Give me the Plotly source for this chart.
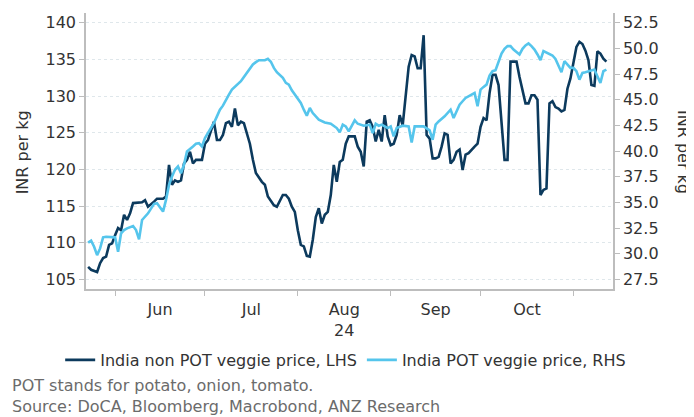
import pandas as pd
import plotly.graph_objects as go

BASE_DATE = "2024-06-01"  # day offsets below are counted from this date

# India non POT veggie price (LHS, INR per kg)
dark_days = [-9, -8, -6, -5, -4, -3, -2, -1, 0, 1, 2, 3, 4, 5, 6, 7, 9, 10, 11, 13, 14, 16, 17, 18, 19, 20,
             21, 22, 23, 24, 25, 26, 27, 28, 29, 30, 31, 33, 34, 35, 36, 37, 38, 39, 40, 41, 42, 43, 45, 46,
             47, 49, 50, 51, 52, 53, 54, 55, 56, 57, 58, 59, 60, 61, 62, 63, 64, 65, 66, 67, 68, 69, 70, 71,
             72, 73, 74, 75, 76, 77, 78, 80, 81, 82, 83, 84, 85, 86, 87, 88, 89, 90, 91, 92, 93, 94, 95, 96,
             97, 98, 99, 100, 101, 102, 103, 104, 105, 106, 107, 108, 109, 110, 111, 112, 113, 114, 115, 116,
             117, 118, 120, 121, 122, 123, 124, 125, 126, 127, 128, 130, 131, 132, 133, 134, 135, 136, 137,
             138, 139, 140, 141, 142, 143, 144, 145, 146, 147, 148, 149, 150, 151, 152, 154, 155, 156, 157,
             158, 159, 160, 161, 162, 163, 164]
dark_vals = [106.7, 106.3, 106.0, 107.2, 107.9, 108.1, 109.7, 109.9, 111.0, 112.0, 111.7, 113.8, 113.1, 114.0,
             115.4, 115.4, 115.5, 115.8, 114.9, 115.6, 116.0, 116.0, 116.3, 120.6, 117.9, 118.5, 118.3, 118.5,
             120.8, 121.3, 122.4, 120.8, 121.3, 121.3, 121.3, 123.5, 124.0, 126.5, 124.0, 124.0, 124.7, 126.3,
             126.5, 125.8, 128.3, 126.0, 126.5, 126.3, 123.5, 121.3, 119.5, 118.3, 117.9, 116.3, 115.6, 115.1,
             114.9, 115.8, 116.5, 116.5, 116.0, 114.9, 114.2, 111.7, 109.7, 109.5, 108.2, 108.1, 110.4, 113.5,
             114.7, 112.6, 113.8, 114.2, 116.5, 120.6, 118.3, 121.0, 121.3, 123.5, 124.5, 124.5, 123.1, 122.4,
             120.4, 126.5, 126.7, 125.8, 123.8, 125.4, 123.8, 127.4, 124.5, 123.3, 123.5, 124.7, 127.4, 126.0,
             130.4, 134.0, 135.6, 135.4, 133.8, 133.8, 138.3, 124.7, 124.2, 121.5, 121.5, 121.7, 123.1, 124.9,
             124.7, 120.8, 121.3, 122.4, 122.7, 119.9, 122.0, 122.2, 123.1, 123.5, 125.8, 127.0, 126.7, 130.4,
             132.9, 132.9, 131.5, 121.3, 121.3, 134.7, 134.7, 134.7, 132.6, 130.6, 129.0, 129.0, 130.1, 130.1,
             129.5, 116.5, 117.2, 117.4, 129.0, 129.3, 128.5, 128.3, 127.9, 128.1, 131.0, 132.4, 136.7, 137.4,
             137.1, 136.2, 134.9, 131.5, 131.4, 136.1, 135.8, 135.1, 134.7]

# India POT veggie price (RHS, INR per kg)
light_days = [-9, -8, -7, -6, -5, -4, -3, -2, 0, 1, 2, 3, 4, 6, 7, 8, 9, 11, 12, 13, 14, 16, 17, 18, 19, 20,
              21, 22, 23, 24, 26, 27, 28, 29, 30, 31, 33, 34, 35, 36, 37, 38, 39, 41, 42, 43, 44, 45, 46, 47,
              48, 50, 51, 52, 53, 54, 56, 57, 58, 59, 60, 61, 62, 63, 64, 65, 66, 68, 69, 70, 72, 73, 74, 75,
              76, 77, 78, 80, 81, 83, 85, 86, 87, 88, 89, 91, 92, 93, 94, 96, 97, 98, 99, 100, 102, 103, 105,
              106, 107, 108, 110, 111, 112, 113, 115, 116, 117, 119, 120, 121, 122, 123, 124, 125, 126, 127,
              128, 129, 130, 131, 132, 133, 135, 136, 137, 138, 139, 140, 141, 142, 143, 144, 146, 147, 149,
              150, 151, 152, 153, 154, 155, 156, 157, 159, 160, 161, 162, 163, 164]
light_vals = [31.07, 31.27, 30.68, 29.86, 30.51, 31.59, 31.65, 31.65, 31.59, 30.19, 31.98, 32.3, 32.47, 32.7,
              32.3, 31.39, 33.28, 33.93, 34.42, 34.85, 34.91, 34.1, 35.24, 36.7, 37.52, 38.17, 38.5, 37.84,
              38.66, 39.96, 40.45, 40.71, 40.77, 40.45, 41.26, 41.75, 42.73, 43.38, 44.03, 44.42, 45.01, 45.5,
              45.99, 46.47, 46.8, 47.22, 47.61, 47.94, 48.43, 48.66, 48.85, 48.85, 48.98, 48.7, 48.1, 47.68,
              47.13, 46.64, 46.47, 45.92, 45.5, 45.17, 44.68, 44.03, 43.44, 44.19, 43.7, 43.05, 42.89, 42.79,
              42.66, 42.47, 42.24, 41.82, 42.57, 42.4, 41.91, 42.99, 42.66, 42.47, 42.57, 41.75, 42.66, 42.47,
              42.57, 42.24, 42.4, 41.43, 42.24, 42.47, 42.4, 42.4, 40.84, 42.4, 42.4, 42.4, 42.01, 41.1, 42.57,
              42.89, 43.38, 43.71, 44.03, 43.22, 44.52, 44.85, 45.17, 45.5, 45.66, 44.36, 45.99, 46.25, 46.47,
              47.35, 47.78, 47.87, 48.59, 49.5, 49.96, 50.22, 50.22, 49.89, 49.41, 49.96, 50.29, 50.48, 50.22,
              49.89, 49.41, 48.85, 49.73, 49.57, 49.31, 48.98, 47.68, 48.75, 48.43, 48.1, 48.1, 47.78, 46.96,
              47.61, 47.68, 47.87, 47.94, 47.29, 46.64, 47.78, 47.94]

left_ticks = [105, 110, 115, 120, 125, 130, 135, 140]
right_ticks = [27.5, 30.0, 32.5, 35.0, 37.5, 40.0, 42.5, 45.0, 47.5, 50.0, 52.5]

base = pd.Timestamp(BASE_DATE)
dark_dates = base + pd.to_timedelta(dark_days, unit="D")
light_dates = base + pd.to_timedelta(light_days, unit="D")

DARK = "#0c3a5d"
LIGHT = "#55c5ec"
FONT = "DejaVu Sans"
TXT = "#333333"
FOOT = "#6b6b6b"
AX = "#bdbdbd"
FS = 16

fig = go.Figure()
fig.add_trace(go.Scatter(x=dark_dates, y=dark_vals, mode="lines", name="India non POT veggie price, LHS",
                         line=dict(color=DARK, width=2.6), yaxis="y"))
fig.add_trace(go.Scatter(x=light_dates, y=light_vals, mode="lines", name="India POT veggie price, RHS",
                         line=dict(color=LIGHT, width=2.6), yaxis="y2"))

# page body has an 8px margin, so the figure is 8px smaller than the window
fig.update_layout(
    width=686, height=409,
    margin=dict(l=78, r=81, t=5, b=128, autoexpand=False),
    paper_bgcolor="white", plot_bgcolor="white",
    font=dict(family=FONT, size=FS, color=TXT),
    showlegend=True,
    legend=dict(orientation="h", xref="paper", x=-0.049, xanchor="left",
                yref="paper", y=-0.257, yanchor="middle",
                font=dict(size=FS, color=TXT), itemwidth=30, tracegroupgap=0,
                bgcolor="rgba(0,0,0,0)"),
    xaxis=dict(type="date", range=["2024-05-22 07:00", "2024-11-14 05:00"], automargin=False,
               dtick="M1", tick0="2024-06-01", ticklabelmode="period", tickformat="%b",
               labelalias={"Aug": "Aug<br>24"},
               showgrid=False, showline=True, linecolor=AX, linewidth=1.5,
               ticks="outside", ticklen=5, tickcolor=AX, tickfont=dict(size=FS, color=TXT),
               zeroline=False),
    yaxis=dict(range=[103.68, 141.33], tickvals=left_ticks, showgrid=True, gridcolor="#dfe7eb",
               griddash="dot", gridwidth=1, showline=True, linecolor=AX, linewidth=1.5, automargin=False,
               ticks="outside", ticklen=5, tickcolor=AX, tickfont=dict(size=FS, color=TXT),
               zeroline=False),
    yaxis2=dict(range=[26.557, 53.45], tickvals=right_ticks, tickformat=".1f", overlaying="y",
                side="right", showgrid=False, showline=True, linecolor=AX, linewidth=1.5, automargin=False,
                ticks="outside", ticklen=5, tickcolor=AX, tickfont=dict(size=FS, color=TXT),
                zeroline=False),
    annotations=[
        dict(text="INR per kg", xref="paper", yref="paper", x=-0.1215, y=0.495, textangle=-90,
             showarrow=False, font=dict(size=FS, color=TXT), xanchor="center", yanchor="middle"),
        dict(text="INR per kg", xref="paper", yref="paper", x=1.1335, y=0.495, textangle=90,
             showarrow=False, font=dict(size=FS, color=TXT), xanchor="center", yanchor="middle"),
        dict(text="POT stands for potato, onion, tomato.", xref="paper", yref="paper",
             x=-0.145, y=-0.348, xanchor="left", yanchor="middle", align="left", showarrow=False,
             font=dict(size=FS, color=FOOT)),
        dict(text="Source: DoCA, Bloomberg, Macrobond, ANZ Research", xref="paper", yref="paper",
             x=-0.145, y=-0.4275, xanchor="left", yanchor="middle", align="left", showarrow=False,
             font=dict(size=FS, color=FOOT)),
    ],
)

fig.write_html("out.html")
